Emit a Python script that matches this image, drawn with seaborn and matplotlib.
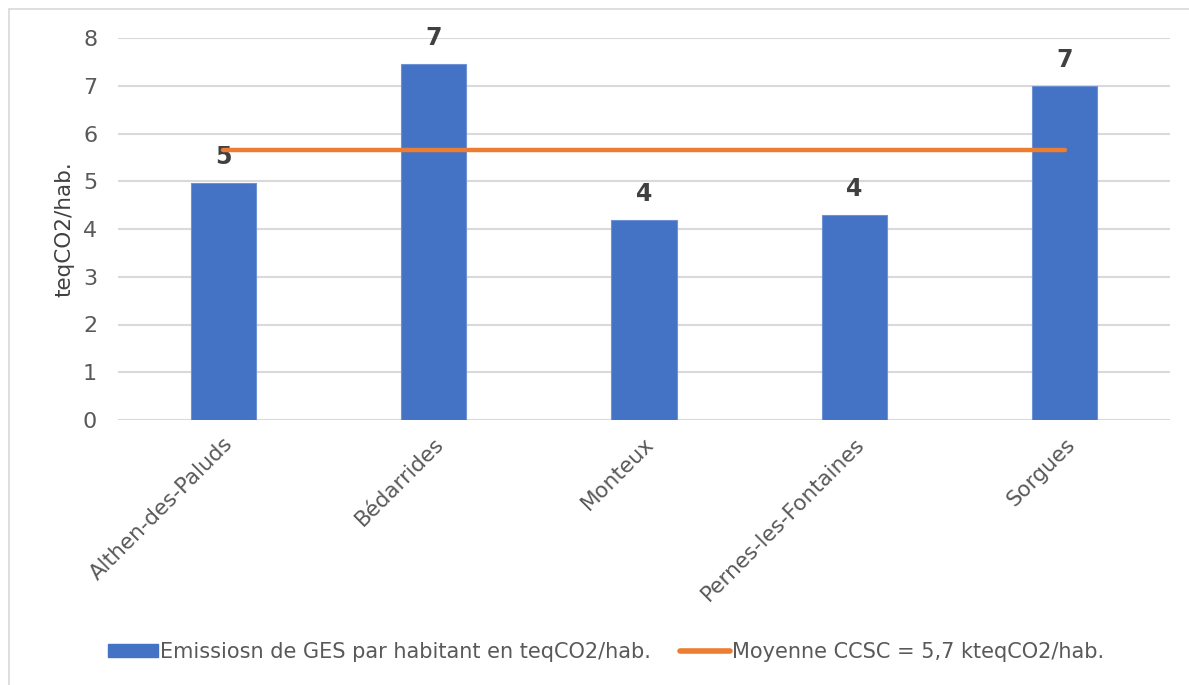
import numpy as np
import pandas as pd
import matplotlib
matplotlib.use("Agg")
import matplotlib.pyplot as plt
from matplotlib.patches import Patch
from matplotlib.lines import Line2D
import seaborn as sns

# Data
communes = ["Althen-des-Paluds", "Bédarrides", "Monteux", "Pernes-les-Fontaines", "Sorgues"]
emissions = [4.97, 7.46, 4.19, 4.29, 6.99]   # teqCO2/hab.
moyenne_ccsc = 5.65
yticks = [0, 1, 2, 3, 4, 5, 6, 7, 8]

bar_label = "Emissiosn de GES par habitant en teqCO2/hab."
line_label = "Moyenne CCSC = 5,7 kteqCO2/hab."
ylabel = "teqCO2/hab."

BLUE = "#4472C4"
ORANGE = "#ED7D31"
GRID = "#D9D9D9"
TXT = "#595959"
LBL = "#404040"

sns.set_theme(style="white")
plt.rcParams["font.family"] = ["DejaVu Sans"]

fig = plt.figure(figsize=(11.89, 6.85), dpi=100)
ax = fig.add_axes([118 / 1189, 1 - 420 / 685, (1170 - 118) / 1189, (420 - 38) / 685])

df = pd.DataFrame({"commune": communes, "emissions": emissions})
sns.barplot(data=df, x="commune", y="emissions", color=BLUE, saturation=1,
            width=0.31, ax=ax, zorder=3, edgecolor="#6f92d4", linewidth=0.8)

# Average line across the communes
xpos = np.arange(len(communes))
ax.plot([xpos[0], xpos[-1]], [moyenne_ccsc, moyenne_ccsc], color=ORANGE,
        lw=3.2, solid_capstyle="round", zorder=4)

# Value labels
for x, v in zip(xpos, emissions):
    ax.annotate(f"{v:.0f}", (x, v), xytext=(0, 10), textcoords="offset points",
                ha="center", va="bottom", fontsize=17, fontweight="bold", color=LBL)

ax.set_xlim(-0.5, len(communes) - 0.5)
ax.set_ylim(0, 8)
ax.set_yticks(yticks)
ax.set_yticklabels([str(t) for t in yticks])
ax.yaxis.grid(True, color=GRID, lw=1.5, zorder=0)
ax.set_axisbelow(True)
for s in ax.spines.values():
    s.set_visible(False)

ax.tick_params(axis="y", length=0, pad=15, labelsize=16, labelcolor=TXT)
ax.tick_params(axis="x", length=0, pad=10, labelsize=15.5, labelcolor=TXT)
ax.set_xticks(xpos)
ax.set_xticklabels(communes, rotation=45, ha="right", va="top", rotation_mode="anchor")
ax.set_xlabel("")
ax.set_ylabel(ylabel, fontsize=15.5, color=LBL, labelpad=6)

# Legend below the plot
handles = [Patch(facecolor=BLUE, edgecolor=BLUE),
           Line2D([0], [0], color=ORANGE, lw=4, solid_capstyle="round")]
fig.legend(handles, [bar_label, line_label], loc="center", ncol=2,
           bbox_to_anchor=(0.51, 1 - 652 / 685), frameon=False, fontsize=15,
           labelcolor=TXT, handlelength=2.4, handleheight=0.55,
           handletextpad=0.1, columnspacing=1.4)

# Chart frame
x0 = 9 / 1189
y0 = 1 - 9 / 685
fig.add_artist(Line2D([x0, 1], [y0, y0], transform=fig.transFigure, color=GRID, lw=1.2))
fig.add_artist(Line2D([x0, x0], [0, y0], transform=fig.transFigure, color=GRID, lw=1.2))

fig.savefig("out.png", dpi=100, facecolor="white")
